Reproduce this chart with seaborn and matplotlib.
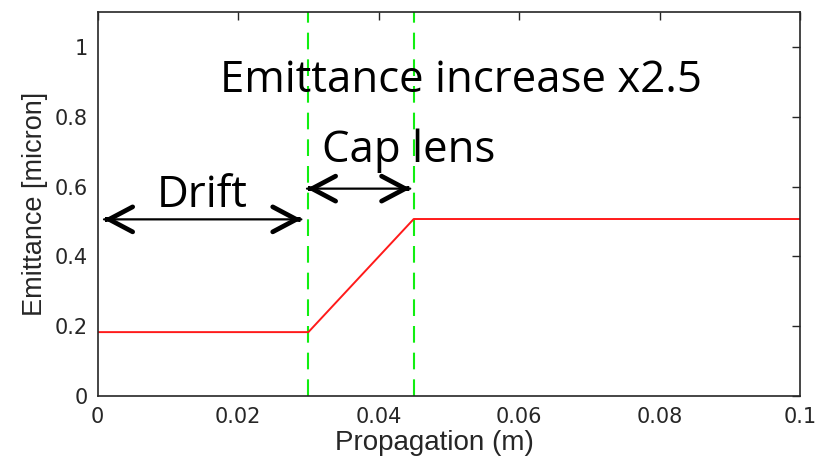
import matplotlib
matplotlib.use("Agg")
import matplotlib.pyplot as plt
import seaborn as sns
import pandas as pd

# Emittance along the beamline: drift, then capillary lens, then constant
propagation = [0.0, 0.030, 0.045, 0.100]
emittance = [0.183, 0.183, 0.507, 0.507]

# Boundaries of the capillary lens section
lens_start = 0.030
lens_end = 0.045

x_ticks = [0, 0.02, 0.04, 0.06, 0.08, 0.1]
x_tick_labels = ["0", "0.02", "0.04", "0.06", "0.08", "0.1"]
y_ticks = [0, 0.2, 0.4, 0.6, 0.8, 1.0]
y_tick_labels = ["0", "0.2", "0.4", "0.6", "0.8", "1"]

sns.set_theme(style="white")
plt.rcParams["font.family"] = ["Liberation Sans", "DejaVu Sans"]
plt.rcParams["xtick.direction"] = "in"
plt.rcParams["ytick.direction"] = "in"

fig = plt.figure(figsize=(8.25, 4.57), dpi=100)
ax = fig.add_axes([97.7 / 825, 1 - 396 / 457, (800 - 97.7) / 825, (396 - 12) / 457])

df = pd.DataFrame({"Propagation (m)": propagation, "Emittance [micron]": emittance})
sns.lineplot(data=df, x="Propagation (m)", y="Emittance [micron]", ax=ax,
             color="#ff1a1a", linewidth=1.4)

for xv in (lens_start, lens_end):
    ax.axvline(xv, color="#11ee11", linestyle=(0, (8, 4.8)), linewidth=1.5, zorder=1)

ax.set_xlim(0, 0.1)
ax.set_ylim(0, 1.1)
ax.set_xticks(x_ticks)
ax.set_xticklabels(x_tick_labels)
ax.set_yticks(y_ticks)
ax.set_yticklabels(y_tick_labels)
ax.tick_params(axis="both", labelsize=15, colors="#262626", length=6, width=1,
               top=True, right=True, labeltop=False, labelright=False)
ax.tick_params(axis="x", pad=8)
ax.tick_params(axis="y", pad=7)
for lbl in ax.get_xticklabels() + ax.get_yticklabels():
    lbl.set_family("DejaVu Sans")
for side in ax.spines.values():
    side.set_color("#262626")
    side.set_linewidth(1.2)
ax.set_xlabel("Propagation (m)", fontsize=20, color="#262626")
ax.set_ylabel("Emittance [micron]", fontsize=19.5, color="#262626", labelpad=5)
ax.xaxis.set_label_coords(0.48, -0.088)


def section_arrow(x0, x1, y):
    """Double-headed arrow with a thin shaft and bold open heads."""
    ax.annotate("", xy=(x1, y), xytext=(x0, y),
                arrowprops=dict(arrowstyle="-", color="black", lw=1.6,
                                shrinkA=0, shrinkB=0))
    head = dict(arrowstyle="->,head_length=1.7,head_width=0.9", color="black",
                lw=3.4, shrinkA=0, shrinkB=0, mutation_scale=10,
                joinstyle="miter", capstyle="round")
    eps = 0.0002
    ax.annotate("", xy=(x0, y), xytext=(x0 + eps, y), arrowprops=head)
    ax.annotate("", xy=(x1, y), xytext=(x1 - eps, y), arrowprops=head)


section_arrow(0.0009, 0.0290, 0.506)
section_arrow(0.0298, 0.0445, 0.594)

text_font = ["Open Sans", "DejaVu Sans"]
text_kw = dict(fontsize=31.5, ha="center", va="center", family=text_font, color="black")
ax.text(0.0149, 0.574, "Drift", **text_kw)
ax.text(0.0443, 0.703, "Cap lens", **text_kw)
ax.text(0.0518, 0.903, "Emittance increase x2.5", **text_kw)

fig.savefig("out.png", dpi=100)
